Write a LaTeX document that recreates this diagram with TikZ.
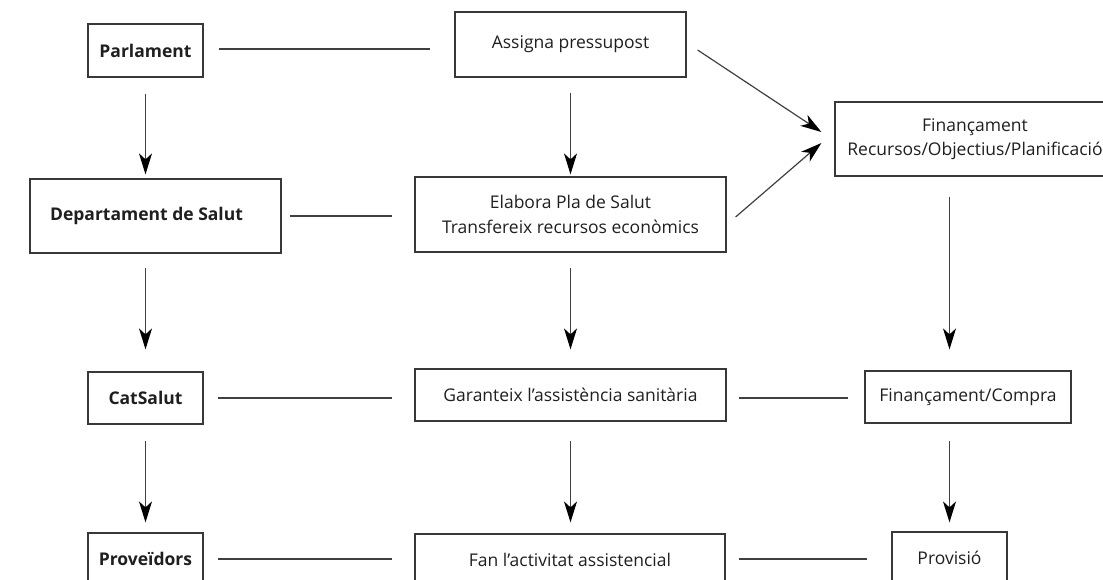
\documentclass[tikz,border=0pt]{standalone}
\usepackage{fontspec}
\setmainfont{Open Sans}
\usetikzlibrary{arrows.meta}
\begin{document}
\begin{tikzpicture}[x=1pt,y=-1pt,
  box/.style={draw=black!78, line width=1.2pt, inner sep=0pt, align=center,
    text=black!88, font=\fontsize{17.5}{24.5}\selectfont},
  bbox/.style={box, font=\fontsize{17.5}{24.5}\selectfont\bfseries},
  conn/.style={draw=black!75, line width=1.2pt},
  arr/.style={conn, -{Stealth[length=21pt,width=13pt,inset=6pt,color=black]}},
]
\useasboundingbox (0,0) rectangle (1103,580);
\clip (0,0) rectangle (1103,580);

% row 1
\node[bbox, minimum width=115pt, minimum height=53pt] (parl) at (145.5,50.5) {Parlament};
\node[box, minimum width=231pt, minimum height=65pt] (assig) at (570.5,44.5) {Assigna pressupost};
\node[box, minimum width=280pt, minimum height=74pt] (fin) at (975,139) {Finançament\\Recursos/Objectius/Planificació};
% row 2
\node[bbox, minimum width=251pt, minimum height=74pt] (dep) at (155.5,216) {\hspace*{-18pt}Departament de Salut};
\node[box, minimum width=311pt, minimum height=75pt] (elab) at (570.5,214.5) {Elabora Pla de Salut\\Transfereix recursos econòmics};
% row 3
\node[bbox, minimum width=115pt, minimum height=52pt] (cat) at (145.5,398) {CatSalut};
\node[box, minimum width=311pt, minimum height=52pt] (gar) at (570.5,395) {Garanteix l’assistència sanitària};
\node[box, minimum width=206pt, minimum height=52pt] (fc) at (968,397) {Finançament/Compra};
% row 4
\node[bbox, minimum width=115pt, minimum height=52pt] (prov) at (145.5,559) {Proveïdors};
\node[box, minimum width=310pt, minimum height=52pt] (fan) at (570,560) {Fan l’activitat assistencial};
\node[box, minimum width=115pt, minimum height=52pt] (provi) at (949.5,558) {Provisió};

% horizontal links
\draw[conn, shorten <=15pt, shorten >=24pt] (parl.east |- 0,49) -- (assig.west |- 0,49);
\draw[conn, shorten <=8pt, shorten >=22pt] (dep.east |- 0,216) -- (elab.west |- 0,216);
\draw[conn, shorten <=14pt, shorten >=22pt] (cat.east |- 0,398) -- (gar.west |- 0,398);
\draw[conn, shorten <=12pt, shorten >=16pt] (gar.east |- 0,398) -- (fc.west |- 0,398);
\draw[conn, shorten <=14pt, shorten >=22pt] (prov.east |- 0,559) -- (fan.west |- 0,559);
\draw[conn, shorten <=13pt, shorten >=24pt] (fan.east |- 0,559) -- (provi.west |- 0,559);

% diagonal arrows
\draw[arr] ([shift={(11,5.5)}]assig.east) -- ([shift={(-13,-7)}]fin.west);
\draw[arr] ([shift={(9,2.5)}]elab.east) -- ([shift={(-13,4)}]fin.west);

% vertical arrows, column 1
\draw[arr, shorten <=16pt, shorten >=4pt] (parl.south) -- (parl.south |- dep.north);
\draw[arr, shorten <=14pt, shorten >=22pt] (parl.south |- dep.south) -- (cat.north);
\draw[arr, shorten <=16pt, shorten >=10pt] (cat.south) -- (prov.north);
% column 2
\draw[arr, shorten <=15pt, shorten >=2pt] (assig.south) -- (elab.north);
\draw[arr, shorten <=15pt, shorten >=19pt] (elab.south) -- (gar.north);
\draw[arr, shorten <=19pt, shorten >=11pt] (gar.south) -- (gar.south |- fan.north);
% column 3
\draw[arr, shorten <=20pt, shorten >=21pt] (provi.north |- fin.south) -- (provi.north |- fc.north);
\draw[arr, shorten <=17pt, shorten >=9pt] (provi.north |- fc.south) -- (provi.north);
\end{tikzpicture}
\end{document}
